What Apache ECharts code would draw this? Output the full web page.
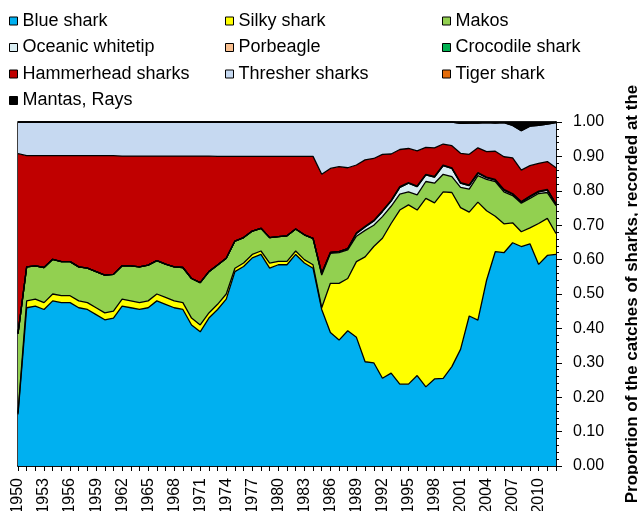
<!DOCTYPE html>
<html><head><meta charset="utf-8">
<script src="https://cdn.jsdelivr.net/npm/echarts@6/dist/echarts.min.js"></script>
<style>html,body{margin:0;padding:0;background:#fff}#c{width:638px;height:511px}</style>
</head><body><div id="c"></div>
<script>
var years = [];
for (var y = 1950; y <= 2012; y++) years.push(String(y));

var blueShark = [0.15,0.46,0.465,0.455,0.48,0.475,0.475,0.46,0.455,0.44,0.425,0.43,0.465,0.46,0.455,0.46,0.48,0.47,0.46,0.455,0.41,0.39,0.43,0.455,0.485,0.565,0.58,0.605,0.615,0.575,0.585,0.585,0.615,0.59,0.575,0.455,0.388,0.366,0.393,0.374,0.303,0.30,0.255,0.27,0.238,0.238,0.263,0.23,0.253,0.255,0.289,0.339,0.436,0.424,0.54,0.623,0.62,0.649,0.638,0.646,0.586,0.612,0.615];
var silkyShark = [0.005,0.02,0.02,0.02,0.02,0.02,0.02,0.02,0.02,0.02,0.02,0.02,0.02,0.02,0.02,0.02,0.02,0.02,0.02,0.02,0.02,0.02,0.015,0.015,0.015,0.01,0.01,0.01,0.01,0.015,0.01,0.01,0.01,0.01,0.01,0.005,0.143,0.165,0.152,0.22,0.305,0.338,0.407,0.435,0.506,0.521,0.481,0.548,0.512,0.542,0.506,0.412,0.302,0.343,0.202,0.103,0.084,0.058,0.043,0.046,0.119,0.108,0.061];
var makos = [0.23,0.099,0.097,0.102,0.101,0.099,0.099,0.099,0.10,0.105,0.11,0.107,0.097,0.102,0.104,0.104,0.097,0.097,0.099,0.102,0.115,0.123,0.12,0.114,0.104,0.079,0.074,0.068,0.066,0.074,0.072,0.074,0.064,0.072,0.077,0.095,0.087,0.089,0.083,0.074,0.077,0.062,0.063,0.05,0.046,0.038,0.044,0.049,0.057,0.051,0.046,0.059,0.067,0.077,0.091,0.101,0.093,0.079,0.083,0.086,0.087,0.075,0.081];
var oceanicWhitetip = [0,0,0,0,0,0,0,0,0,0,0,0,0,0,0,0,0,0,0,0,0,0,0,0,0,0,0,0,0,0,0,0,0,0,0,0.005,0.003,0.003,0.004,0.008,0.01,0.012,0.015,0.015,0.02,0.025,0.024,0.019,0.018,0.025,0.024,0.012,0.01,0.007,0.005,0.004,0.005,0.004,0.003,0.005,0.005,0.007,0.004];
var porbeagle = [0,0,0,0,0,0,0,0,0,0,0,0,0,0,0,0,0,0,0,0,0,0,0,0,0,0,0,0,0,0,0,0,0,0,0,0,0,0,0,0,0,0,0,0,0,0,0,0,0,0,0,0,0,0,0,0,0,0,0,0,0,0,0];
var crocodileShark = [0,0,0,0,0,0,0,0,0,0,0,0,0,0,0,0,0,0,0,0,0,0,0,0,0,0,0,0,0,0,0,0,0,0,0,0,0,0,0,0.002,0.002,0.002,0.002,0.002,0.002,0.002,0.002,0.002,0.002,0.002,0.002,0.002,0.002,0.002,0.002,0.002,0.002,0.002,0.002,0.002,0.002,0.002,0.002];
var hammerheadSharks = [0.523,0.323,0.32,0.325,0.301,0.308,0.308,0.323,0.327,0.337,0.347,0.345,0.319,0.319,0.322,0.317,0.304,0.314,0.322,0.324,0.356,0.368,0.336,0.316,0.296,0.246,0.236,0.217,0.209,0.236,0.233,0.231,0.211,0.228,0.238,0.288,0.244,0.247,0.235,0.197,0.193,0.18,0.164,0.135,0.108,0.099,0.102,0.078,0.083,0.061,0.064,0.085,0.089,0.072,0.074,0.082,0.095,0.104,0.091,0.088,0.081,0.081,0.104];
var thresherSharks = [0.092,0.098,0.098,0.098,0.098,0.098,0.098,0.098,0.098,0.098,0.098,0.098,0.099,0.099,0.099,0.099,0.099,0.099,0.099,0.099,0.099,0.099,0.099,0.10,0.10,0.10,0.10,0.10,0.10,0.10,0.10,0.10,0.10,0.10,0.10,0.152,0.135,0.13,0.133,0.125,0.11,0.106,0.094,0.093,0.08,0.077,0.084,0.074,0.075,0.064,0.069,0.087,0.091,0.072,0.084,0.082,0.099,0.094,0.115,0.115,0.11,0.109,0.131];
var tigerShark = [0,0,0,0,0,0,0,0,0,0,0,0,0,0,0,0,0,0,0,0,0,0,0,0,0,0,0,0,0,0,0,0,0,0,0,0,0,0,0,0,0,0,0,0,0,0,0,0,0,0,0,0,0,0,0,0,0,0,0,0,0,0,0];
var mantasRays = [0,0,0,0,0,0,0,0,0,0,0,0,0,0,0,0,0,0,0,0,0,0,0,0,0,0,0,0,0,0,0,0,0,0,0,0,0,0,0,0,0,0,0,0,0,0,0,0,0,0,0,0.004,0.003,0.003,0.002,0.003,0.002,0.01,0.025,0.012,0.01,0.006,0.002];

var yTicks = ['0.00','0.10','0.20','0.30','0.40','0.50','0.60','0.70','0.80','0.90','1.00'];

var seriesDefs = [
  ['Blue shark', blueShark, '#00B0F0'],
  ['Silky shark', silkyShark, '#FFFF00'],
  ['Makos', makos, '#92D050'],
  ['Oceanic whitetip', oceanicWhitetip, '#DAEEF3'],
  ['Porbeagle', porbeagle, '#FAC090'],
  ['Crocodile shark', crocodileShark, '#00B050'],
  ['Hammerhead sharks', hammerheadSharks, '#C00000'],
  ['Thresher sharks', thresherSharks, '#C6D9F1'],
  ['Tiger shark', tigerShark, '#E46C0A'],
  ['Mantas, Rays', mantasRays, '#000000']
];

var FONT = 'Liberation Sans, Arial, sans-serif';
var series = seriesDefs.map(function (d) {
  return {
    name: d[0], type: 'line', stack: 'total', data: d[1],
    symbol: 'none', smooth: false,
    itemStyle: { color: d[2] },
    lineStyle: { color: '#000', width: 1.3 },
    areaStyle: { color: d[2], opacity: 1 },
    emphasis: { disabled: true }
  };
});

function legendCol(left, names) {
  return {
    orient: 'vertical', left: left, top: 12, padding: 0, icon: 'rect',
    itemWidth: 8, itemHeight: 8, itemGap: 8.5,
    selectedMode: false,
    itemStyle: { borderColor: '#000', borderWidth: 1 },
    textStyle: { fontFamily: FONT, fontSize: 18, color: '#000', lineHeight: 17 },
    data: names
  };
}

var chart = echarts.init(document.getElementById('c'), null, { renderer: 'canvas' });
chart.setOption({
  animation: false,
  backgroundColor: '#fff',
  legend: [
    legendCol(9, ['Blue shark', 'Oceanic whitetip', 'Hammerhead sharks', 'Mantas, Rays']),
    legendCol(225, ['Silky shark', 'Porbeagle', 'Thresher sharks']),
    legendCol(442, ['Makos', 'Crocodile shark', 'Tiger shark'])
  ],
  grid: { left: 18, right: 82, top: 122, bottom: 45, outerBoundsMode: 'none', containLabel: false, show: true, borderColor: '#000', borderWidth: 1.5, backgroundColor: 'transparent' },
  xAxis: {
    type: 'category', data: years, boundaryGap: false,
    axisLine: { lineStyle: { color: '#000', width: 1.5 } },
    axisTick: { show: true, interval: 0, length: 5, lineStyle: { color: '#000' } },
    axisLabel: { interval: 2, rotate: 90, fontFamily: FONT, fontSize: 16, color: '#000', margin: 12 }
  },
  yAxis: {
    type: 'value', position: 'right', min: 0, max: 1, interval: 0.1,
    name: 'Proportion of the catches of sharks, recorded at the',
    nameLocation: 'middle', nameRotate: 90, nameGap: 68,
    nameTextStyle: { fontFamily: FONT, fontSize: 17, fontWeight: 'bold', color: '#000' },
    axisLine: { show: true, lineStyle: { color: '#000', width: 1.5 } },
    axisTick: { show: true, length: 6, lineStyle: { color: '#000' } },
    minorTick: { show: true, splitNumber: 5, length: 3, lineStyle: { color: '#000' } },
    splitLine: { show: false },
    axisLabel: {
      fontFamily: FONT, fontSize: 16, color: '#000', margin: 17,
      formatter: function (v) { return yTicks[Math.round(v * 10)]; }
    }
  },
  series: series
});
</script></body></html>
